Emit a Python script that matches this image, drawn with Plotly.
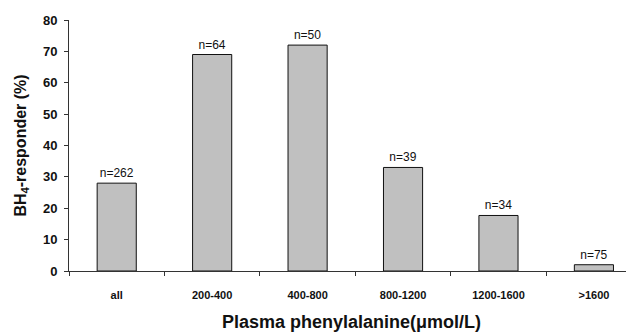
import plotly.graph_objects as go

categories = ["all", "200-400", "400-800", "800-1200", "1200-1600", ">1600"]
responder_pct = [28, 69, 72, 33, 17.7, 2]
n_counts = [262, 64, 50, 39, 34, 75]
y_ticks = [0, 10, 20, 30, 40, 50, 60, 70, 80]

FONT = "Arial, Liberation Sans, sans-serif"

fig = go.Figure(
    go.Bar(
        x=categories,
        y=responder_pct,
        text=[f"n={n}" for n in n_counts],
        textposition="outside",
        textfont=dict(family=FONT, size=12, color="#111"),
        cliponaxis=False,
        marker=dict(color="#c0c0c0", line=dict(color="#111", width=1)),
        width=0.41,
    )
)

# page body has an 8px default margin, so the figure is shrunk and shifted accordingly
fig.update_layout(
    width=626,
    height=327,
    margin=dict(l=61, r=0, t=12, b=64, autoexpand=False),
    plot_bgcolor="white",
    paper_bgcolor="white",
    showlegend=False,
    font=dict(family=FONT, color="#111"),
)

fig.update_xaxes(
    type="category",
    range=[-0.5, 5.42],
    automargin=False,
    showline=True,
    linecolor="#333",
    linewidth=1,
    ticks="outside",
    tickson="boundaries",
    ticklen=4,
    tickcolor="#333",
    ticklabelstandoff=14,
    tickfont=dict(family=FONT, size=11, weight="bold", color="#111"),
    showgrid=False,
    title=dict(
        text="Plasma phenylalanine(μmol/L)",
        font=dict(family=FONT, size=18, weight="bold", color="#111"),
        standoff=15,
    ),
)

fig.update_yaxes(
    range=[0, 80],
    tickvals=y_ticks,
    automargin=False,
    showline=True,
    linecolor="#333",
    linewidth=1,
    ticks="outside",
    ticklen=4,
    tickcolor="#333",
    ticklabelstandoff=4,
    tickfont=dict(family=FONT, size=13, weight="bold", color="#111"),
    showgrid=False,
    zeroline=False,
    title=dict(
        text="BH<sub>4</sub>-responder (%)",
        font=dict(family=FONT, size=16, weight="bold", color="#111"),
        standoff=12,
    ),
)

fig.write_html("out.html")
